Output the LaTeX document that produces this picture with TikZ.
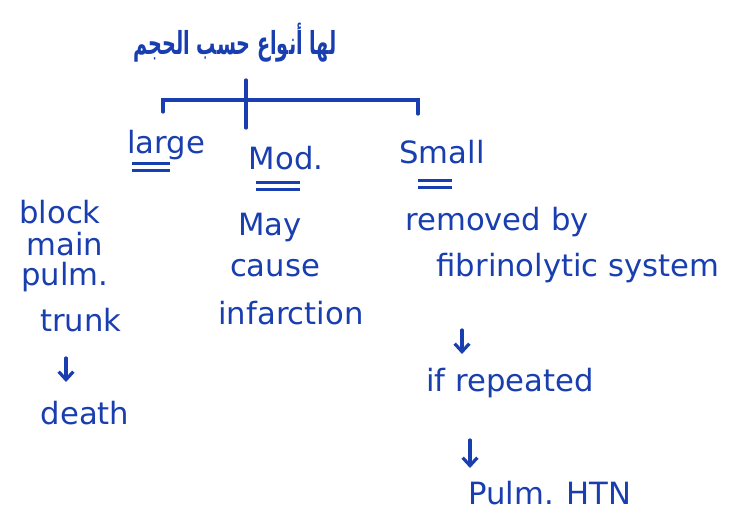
\documentclass[tikz,border=0pt]{standalone}
\usepackage{fontspec}
\setmainfont{DejaVu Sans}
\newfontfamily\arabicfont[Script=Arabic]{DejaVu Sans}
\TeXXeTstate=1
\usetikzlibrary{arrows.meta,positioning}
\definecolor{ink}{RGB}{25,62,175}

\begin{document}
\begin{tikzpicture}[
            x=0.75pt,y=-0.75pt,
            hand/.style={text=ink,font=\fontsize{23}{25}\selectfont,inner sep=1pt},
            uline/.style={draw=ink,line width=1.9pt,line cap=butt,double=white,double distance=3.5pt},
            brk/.style={draw=ink,line width=2.5pt,line cap=round},
            arr/.style={draw=ink,line width=2.4pt,line cap=round,-{Straight Barb[length=6pt,width=11pt]}}
          ]
          \useasboundingbox[fill=white] (0,0) rectangle (739,516);

          %title
          \node[hand,font=\fontsize{19}{22}\selectfont\bfseries] (title) at (235,43)
            {\scalebox{0.76}[1.25]{\arabicfont\beginR لها أنواع حسب الحجم\endR}};

          %bracket
          \coordinate (mid) at (246,80);
          \coordinate (bl) at (163,100);
          \coordinate (br) at (418,100);
          \draw[brk] (mid) -- ++(0,48);
          \draw[brk] (bl) ++(0,12) -- (bl) -- (br) -- ++(0,14);

          %labels
          \node[hand] (large) at (166,145) {large};
          \node[hand] (mod) at (286,158) {Mod.};
          \node[hand] (small) at (442,152) {Small};
          \draw[uline] (132,167) -- (170,167);
          \draw[uline] (256,186) -- (300,186);
          \draw[uline] (418,184) -- (452,184);

          %large
          \node[hand] (block) at (60,212) {block};
          \node[hand] (main) at (65,244) {main};
          \node[hand] (pulm) at (65,277) {pulm.};
          \node[hand] (trunk) at (81,320) {trunk};
          \node[hand] (death) at (85,413) {death};

          %mod
          \node[hand] (may) at (270,228) {May};
          \node[hand] (cause) at (275,268) {cause};
          \node[hand] (infarct) at (291,313) {infarction};

          %small
          \node[hand] (removed) at (497,222) {removed by};
          \node[hand] (fibrin) at (578,268) {fibrinolytic system};
          \node[hand] (repeat) at (510,383) {if repeated};
          \node[hand] (htn) at (550,493) {Pulm. HTN};

          \path
          (trunk) ++(-15,38) edge[arr] ++(0,24)
          (fibrin) ++(-116,62) edge[arr] ++(0,24)
          (repeat) ++(-40,57) edge[arr] ++(0,28)
          ;

      \end{tikzpicture}
\end{document}
